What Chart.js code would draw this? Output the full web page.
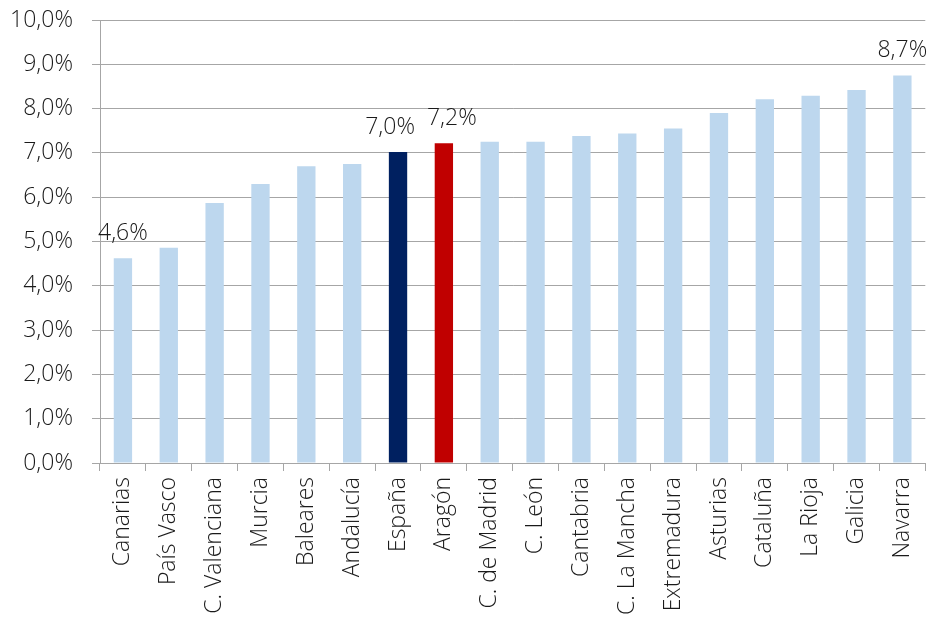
<!DOCTYPE html>
<html>
<head>
<meta charset="utf-8">
<script src="https://cdn.jsdelivr.net/npm/chart.js@4"></script>
<style>
  html, body { margin: 0; padding: 0; background: #fff; }
  #wrap { width: 936px; height: 621px; }
</style>
</head>
<body>
<div id="wrap"><canvas id="myChart" width="936" height="621"></canvas></div>
<script>
// Datos
const regiones = ['Canarias', 'País Vasco', 'C. Valenciana', 'Murcia', 'Baleares', 'Andalucía', 'España', 'Aragón',
  'C. de Madrid', 'C. León', 'Cantabria', 'C. La Mancha', 'Extremadura', 'Asturias', 'Cataluña', 'La Rioja', 'Galicia', 'Navarra'];
const valores = [4.62, 4.86, 5.87, 6.3, 6.7, 6.75, 7.02, 7.22, 7.25, 7.25, 7.38, 7.44, 7.55, 7.9, 8.21, 8.29, 8.42, 8.75];
// etiquetas visibles sólo en algunas barras
const etiquetas = ['4,6%', '', '', '', '', '', '7,0%', '7,2%', '', '', '', '', '', '', '', '', '', '8,7%'];

const colores = regiones.map(r => r === 'España' ? '#002060' : (r === 'Aragón' ? '#c00000' : '#bdd7ee'));

const fuente = { family: "'Open Sans', sans-serif", size: 23, weight: 300 };

// Plugin sencillo para dibujar las etiquetas de datos (separa las que se solapan)
const etiquetasPlugin = {
  id: 'etiquetas',
  afterDatasetsDraw(chart) {
    const ctx = chart.ctx;
    const meta = chart.getDatasetMeta(0);
    ctx.save();
    ctx.font = `300 23px 'Open Sans', sans-serif`;
    ctx.fillStyle = '#1a1a1a';
    ctx.textAlign = 'center';
    ctx.textBaseline = 'alphabetic';
    const items = [];
    meta.data.forEach((bar, i) => {
      if (!etiquetas[i]) return;
      items.push({ texto: etiquetas[i], x: bar.x, y: bar.y - 18, w: ctx.measureText(etiquetas[i]).width });
    });
    for (let k = 1; k < items.length; k++) {
      const a = items[k - 1], b = items[k];
      const solape = (a.x + a.w / 2 + 12) - (b.x - b.w / 2);
      if (solape > 0) {
        a.x -= solape / 2;
        b.x += solape / 2;
      }
    }
    items.forEach(it => ctx.fillText(it.texto, it.x, it.y));
    ctx.restore();
  }
};

const ctx = document.getElementById('myChart').getContext('2d');
const myChart = new Chart(ctx, {
  type: 'bar',
  data: {
    labels: regiones,
    datasets: [{
      data: valores,
      backgroundColor: colores,
      barPercentage: 0.4,
      categoryPercentage: 1
    }]
  },
  options: {
    responsive: false,
    animation: false,
    layout: { padding: { top: 20, right: 1, left: 0, bottom: 0 } },
    plugins: {
      legend: { display: false },
      tooltip: { enabled: false }
    },
    scales: {
      y: {
        min: 0,
        max: 10,
        ticks: {
          stepSize: 1,
          color: '#1a1a1a',
          font: fuente,
          padding: 19,
          callback: v => v.toFixed(1).replace('.', ',') + '%'
        },
        grid: { color: '#a6a6a6', lineWidth: 1, tickLength: 8 },
        border: { color: '#a6a6a6' },
        afterFit: scale => {
          scale.width = 100;
          scale.paddingTop = 5;
        }
      },
      x: {
        ticks: {
          color: '#1a1a1a',
          font: fuente,
          minRotation: 90,
          maxRotation: 90,
          autoSkip: false,
          padding: 6
        },
        grid: { drawOnChartArea: false, offset: true, color: '#a6a6a6', tickLength: 8 },
        border: { color: '#a6a6a6' },
        afterFit: scale => { scale.height = 158; }
      }
    }
  },
  plugins: [etiquetasPlugin]
});
</script>
</body>
</html>
